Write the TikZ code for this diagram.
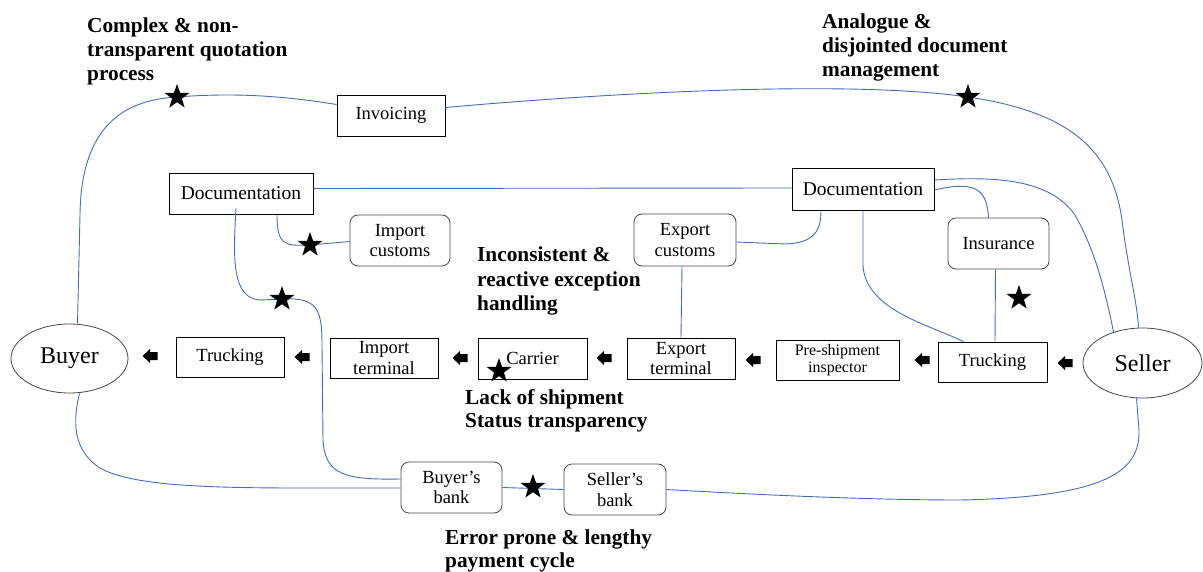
\documentclass[tikz,border=0pt]{standalone}
\usepackage{fontspec}
\setmainfont{Liberation Serif}
\usetikzlibrary{shapes.geometric,calc}
\definecolor{flow}{RGB}{68,108,180}
\definecolor{edgegray}{RGB}{70,70,70}
\begin{document}
\begin{tikzpicture}[x=1pt,y=-1pt,
  every node/.style={font=\fontsize{18.5}{20.5}\selectfont},
  box/.style={draw=black, line width=0.8pt, rectangle, inner sep=0pt, align=center},
  rbox/.style={box, draw=edgegray, rounded corners=8pt},
  party/.style={draw=edgegray, line width=0.8pt, ellipse, inner sep=0pt, font=\fontsize{24}{26}\selectfont},
  flowline/.style={draw=flow, line width=0.9pt},
  issue/.style={anchor=base west, align=left, inner sep=0pt, font=\fontsize{21.3}{24}\selectfont\bfseries},
  starmark/.style={star, star points=5, star point ratio=2.5, fill=black, inner sep=0pt, minimum size=26pt},
  blockarrow/.style={fill=black},
]
\useasboundingbox (0,0) rectangle (1203,572);

% boxes
\node[box, minimum width=108pt, minimum height=41pt] (inv) at (391,115.5) {Invoicing};
\node[box, minimum width=144pt, minimum height=41pt, font=\fontsize{19.5}{22}\selectfont] (docL) at (241,193.5) {Documentation};
\node[rbox, minimum width=100pt, minimum height=51pt] (impC) at (400,240.5) {Import\\customs};
\node[party, minimum width=117pt, minimum height=69pt] (buyer) at (69.5,358.5) {Buyer};
\node[box, minimum width=108pt, minimum height=40pt] (truckL) at (230,357) {Trucking};
\node[box, minimum width=108pt, minimum height=40pt] (impT) at (384,358) {Import\\terminal};
\node[box, minimum width=109pt, minimum height=41pt] (carrier) at (532.5,358.5) {Carrier};
\node[box, minimum width=108pt, minimum height=41pt] (expT) at (681,358.5) {Export\\terminal};
\node[box, minimum width=123pt, minimum height=40pt, font=\fontsize{16}{17.5}\selectfont] (pre) at (837.5,360) {Pre-shipment\\inspector};
\node[rbox, minimum width=102pt, minimum height=52pt] (expC) at (685,240) {Export\\customs};
\node[box, minimum width=142pt, minimum height=42pt, font=\fontsize{19.5}{22}\selectfont] (docR) at (863,189) {Documentation};
\node[rbox, minimum width=101pt, minimum height=51pt] (ins) at (998.5,243.5) {Insurance};
\node[box, minimum width=109pt, minimum height=40pt] (truckR) at (992.5,362) {Trucking};
\node[party, minimum width=119pt, minimum height=70pt] (seller) at (1142.5,363) {Seller};
\node[rbox, minimum width=101pt, minimum height=51pt] (bbank) at (451.5,487.5) {Buyer’s\\bank};
\node[rbox, minimum width=102pt, minimum height=51pt] (sbank) at (615,489.5) {Seller’s\\bank};

% star positions
\coordinate (s1) at (177,97);
\coordinate (s2) at (968,97);
\coordinate (s3) at (310,245);
\coordinate (s4) at (282,299);
\coordinate (s5) at (499,371);
\coordinate (s6) at (1019,298);
\coordinate (s7) at (533,487);

% connectors
\draw[flowline] ($(buyer.north)+(8,0)$) -- (80,215) .. controls (81,130) and (120,100) .. (s1)
   .. controls (240,92) and (290,97) .. ($(inv.west)+(0,-11)$);
\draw[flowline] ($(inv.east)+(0,-8)$) .. controls (620,92) and (850,80) .. (s2)
   .. controls (1070,112) and (1112,150) .. (1122,220) .. controls (1128,270) and (1137,300) .. ($(seller.north)+(-4,0)$);
\draw[flowline] ($(docL.east)+(0,-5)$) -- ($(docR.west)+(0,-1)$);
\draw[flowline] ($(docL.south)+(36,0)$) .. controls (277,246) and (285,246) .. (s3) -- ($(impC.west)+(0,1)$);
\draw[flowline] ($(docL.south)+(-5,-6)$) .. controls (233,260) and (232,298) .. (260,300) -- (s4)
   .. controls (318,297) and (322,310) .. (322,345) -- (323,440) .. controls (325,475) and (345,480) .. ($(bbank.west)+(0,-8.5)$);
\draw[flowline] ($(buyer.south)+(10,0)$) .. controls (73,420) and (72,450) .. (100,468)
   .. controls (130,485) and (200,488) .. (300,488) -- ($(bbank.west)+(0,0.5)$);
\draw[flowline] (bbank.east) -- (sbank.west);
\draw[flowline] (sbank.east) .. controls (780,496) and (880,500) .. (960,500)
   .. controls (1110,497) and (1140,470) .. (1139,430) -- ($(seller.south)+(-6,0)$);
\draw[flowline] ($(expC.east)+(0,2)$) -- (785,244) .. controls (815,243) and (821,230) .. ($(docR.south)+(-42,0)$);
\draw[flowline] ($(expC.south)+(-3,0)$) -- (expT.north);
\draw[flowline] (docR.south) -- (863,265) .. controls (865,310) and (930,325) .. ($(truckR.north)+(-29,0)$);
\draw[flowline] ($(docR.east)+(0,1)$) .. controls (970,182) and (987,185) .. ($(ins.north)+(-10,0)$);
\draw[flowline] ($(docR.east)+(0,-9)$) .. controls (1000,176) and (1050,180) .. (1075,215)
   .. controls (1095,250) and (1105,290) .. ($(seller.center)+(-29,-31)$);
\draw[flowline] ($(ins.south)+(-3,0)$) -- ($(truckR.north)+(2.5,0)$);

% star marks
\foreach \s in {1,...,7} \node[starmark] (star\s) at (s\s) {};

% flow arrows (left-pointing block arrows)
\coordinate (ar1) at (150,356);
\coordinate (ar2) at (302,357);
\coordinate (ar3) at (460,358);
\coordinate (ar4) at (604,358);
\coordinate (ar5) at (753,360);
\coordinate (ar6) at (922,360);
\coordinate (ar7) at (1065,363);
\foreach \a in {1,...,7}
  \fill[blockarrow, shift={(ar\a)}] (-7.5,0) -- (0,-7) -- (0,-4) -- (7.5,-4) -- (7.5,4) -- (0,4) -- (0,7) -- cycle;

% issue labels (anchored at the last line's baseline)
\node[issue] (i1) at (87,81) {Complex \& non-\\transparent quotation\\process};
\node[issue] (i2) at (822,77) {Analogue \&\\disjointed document\\management};
\node[issue] (i3) at (477,310) {Inconsistent \&\\reactive exception\\handling};
\node[issue, font=\fontsize{21.3}{23}\selectfont\bfseries] (i4) at (465,427) {Lack of shipment\\Status transparency};
\node[issue, font=\fontsize{21.3}{22.5}\selectfont\bfseries] (i5) at (445,567) {Error prone \& lengthy\\payment cycle};
\end{tikzpicture}
\end{document}
